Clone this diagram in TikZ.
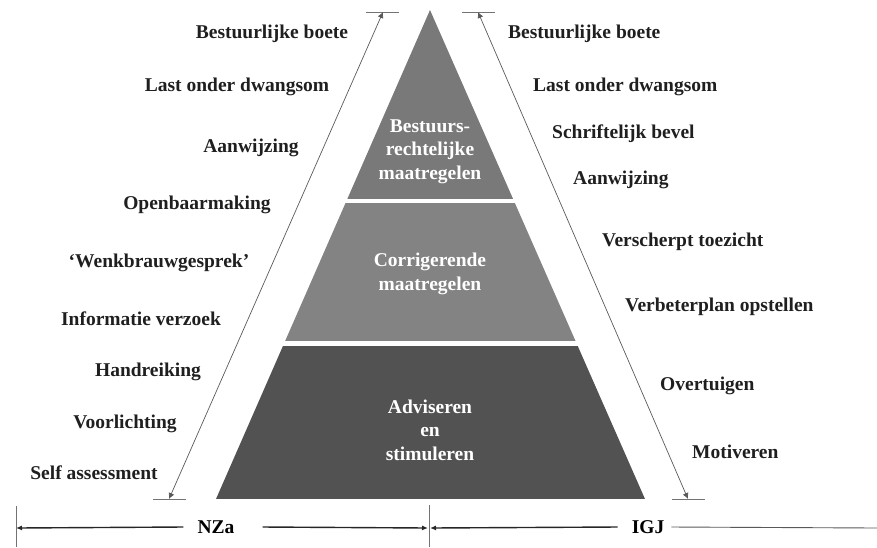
\documentclass[tikz,border=0pt]{standalone}
\usepackage{fontspec}
\setmainfont{Liberation Serif}
\usepackage{xcolor}
\usepackage{tikz}
\usetikzlibrary{arrows.meta,positioning}

\definecolor{tiertop}{HTML}{797979}
\definecolor{tiermid}{HTML}{838383}
\definecolor{tierlow}{HTML}{525252}

\begin{document}
\begin{tikzpicture}[
      x=1pt, y=-1pt,
      font=\fontsize{19.5}{23.5}\selectfont\bfseries,
      lbl/.style={anchor=base, inner sep=0pt, text=black!88},
      rlbl/.style={anchor=base west, inner sep=0pt, text=black!88},
      tiertxt/.style={anchor=base, align=center, text=white, inner sep=0pt},
      rng/.style={{Latex[length=6pt,width=6pt]}-{Latex[length=6pt,width=6pt]},
                  draw=black!65, line width=0.7pt},
      bar/.style={draw=black!55, line width=0.9pt},
      axarr/.style={-{Latex[length=6pt,width=5pt]}, line width=1.4pt, draw=black!85},
      every node/.style={inner sep=2pt}
    ]
    \useasboundingbox (0,0) rectangle (877,547);

    % Pyramid
    \coordinate (apex) at (430,10);
    \coordinate (bl)   at (216,499);
    \coordinate (br)   at (645,499);
    \begin{scope}
      \clip (apex) -- (bl) -- (br) -- cycle;
      \fill[tiertop] (200,0)   rectangle (660,199);
      \fill[tiermid] (200,203) rectangle (660,341);
      \fill[tierlow] (200,346) rectangle (660,499);
    \end{scope}
    % last line baselines
    \node[tiertxt] (bm) at (430,179) {Bestuurs-\\rechtelijke\\maatregelen};
    \node[tiertxt] (cm) at (430,290) {Corrigerende\\maatregelen};
    \node[tiertxt] (as) at (430,460) {Adviseren\\en\\stimuleren};

    % Range arrows
    \coordinate (ltop) at (383,12);
    \coordinate (lbot) at (169,499);
    \coordinate (rtop) at (478,12);
    \coordinate (rbot) at (688,499);
    \draw[bar] ([xshift=-17pt]ltop) -- ([xshift=16pt]ltop);
    \draw[bar] ([xshift=-16pt]lbot) -- ([xshift=17pt]lbot);
    \draw[bar] ([xshift=-16pt]rtop) -- ([xshift=17pt]rtop);
    \draw[bar] ([xshift=-16pt]rbot) -- ([xshift=17pt]rbot);
    \draw[rng] (lbot) -- (ltop);
    \draw[rng] (rbot) -- (rtop);

    % NZa column
    \node[lbl] (nboete) at (272,38)  {Bestuurlijke boete};
    \node[lbl] (nlast)  at (237,91)  {Last onder dwangsom};
    \node[lbl] (naanw)  at (251,152) {Aanwijzing};
    \node[lbl] (nopen)  at (197,209) {Openbaarmaking};
    \node[lbl] (nwenk)  at (159,267) {‘Wenkbrauwgesprek’};
    \node[lbl] (ninfo)  at (141,325) {Informatie verzoek};
    \node[lbl] (nhand)  at (148,376) {Handreiking};
    \node[lbl] (nvoor)  at (125,428) {Voorlichting};
    \node[lbl] (nself)  at (94,479)  {Self assessment};

    % IGJ column
    \node[rlbl] (iboete)  at (508,38)  {Bestuurlijke boete};
    \node[rlbl] (ilast)   at (533,91)  {Last onder dwangsom};
    \node[rlbl] (ibevel)  at (552,138) {Schriftelijk bevel};
    \node[rlbl] (iaanw)   at (573,184) {Aanwijzing};
    \node[rlbl] (itoez)   at (602,246) {Verscherpt toezicht};
    \node[rlbl] (iplan)   at (625,311) {Verbeterplan opstellen};
    \node[rlbl] (iovert)  at (660,390) {Overtuigen};
    \node[rlbl] (imotiv)  at (692,458) {Motiveren};

    % Axis
    \coordinate (axL) at (16,528);
    \coordinate (axM) at (429,528);
    \coordinate (axR) at (877,528);
    \draw[bar] ([yshift=22pt]axL) -- ([yshift=-19pt]axL);
    \draw[bar] ([yshift=23pt]axM) -- ([yshift=-19pt]axM);
    \node (nza) at (216,527) {NZa};
    \node (igj) at (648,527) {IGJ};
    \draw[axarr] ([xshift=-12pt]nza.west) -- (axL);
    \draw[axarr] ([xshift=26pt]nza.east) -- ([xshift=-1pt]axM);
    \draw[axarr] ([xshift=-12pt]igj.west) -- ([xshift=1pt]axM);
    \draw[bar, draw=black!65] ([xshift=5pt]igj.east) -- (axR);
  \end{tikzpicture}
\end{document}
